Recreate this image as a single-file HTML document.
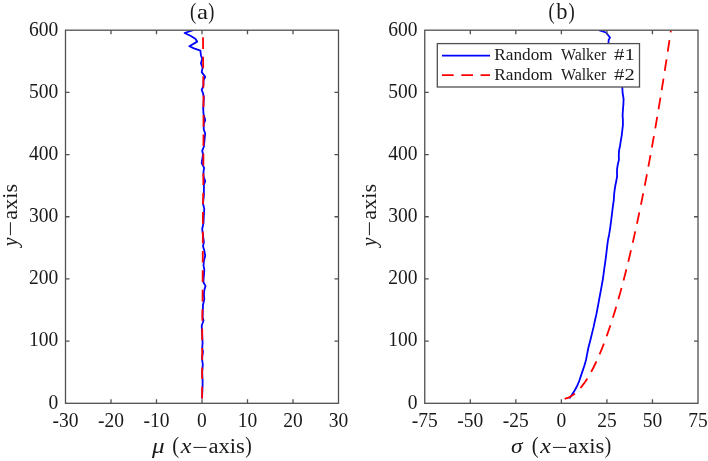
<!DOCTYPE html><html><head><meta charset="utf-8"><style>html,body{margin:0;padding:0;background:#fff;overflow:hidden}svg{display:block}text{font-family:"Liberation Serif",serif;fill:#1a1a1a}</style></head><body>
<svg style="will-change:transform" width="708" height="461" viewBox="0 0 708 461">
<rect width="708" height="461" fill="#fff"/>
<defs><clipPath id="ca"><rect x="65.50" y="30.20" width="273.00" height="373.10"/></clipPath><clipPath id="cb"><rect x="424.75" y="30.20" width="273.25" height="373.10"/></clipPath></defs>
<polyline points="194.60,29.60 184.60,33.00 190.40,35.80 195.30,38.70 197.20,41.60 189.40,46.20 194.00,48.40 200.40,50.60 200.90,55.20 202.20,58.70 200.90,63.50 202.60,67.40 201.70,72.10 205.20,76.90 203.50,80.40 203.50,84.70 202.60,88.00 201.70,89.70 203.00,93.20 203.90,97.50 203.20,108.00 203.50,114.00 205.20,120.10 203.90,123.60 203.70,128.00 203.90,130.00 205.20,133.50 204.50,140.00 203.90,146.50 202.20,150.80 203.00,154.30 202.50,158.00 201.70,163.00 204.10,167.80 203.50,171.90 203.50,176.30 205.20,181.10 203.90,185.00 203.90,190.20 203.90,195.40 203.00,203.50 204.30,209.10 203.90,214.30 203.50,223.00 202.20,229.00 202.60,232.50 203.90,242.00 203.00,246.20 204.30,250.50 205.20,255.80 203.90,261.00 203.50,265.30 204.30,269.60 203.90,275.70 203.50,280.00 203.50,282.50 205.50,285.90 204.30,290.30 203.90,294.60 204.30,299.00 203.00,305.00 202.80,310.30 202.60,317.20 203.50,320.50 201.70,325.70 202.20,334.40 202.60,343.00 202.20,348.20 203.00,351.70 202.20,357.00 202.20,360.20 202.80,364.50 202.20,372.40 202.60,380.20 202.60,385.40 202.20,395.00 202.00,398.50" fill="none" stroke="#0000ff" stroke-width="1.80" stroke-linejoin="round" clip-path="url(#ca)"/>
<polyline points="202.10,398.50 202.20,330.00 202.60,295.00 202.80,250.00 202.90,215.00 203.30,185.00 203.50,130.00 203.50,100.00 203.20,70.00 203.00,30.20" fill="none" stroke="#ff0000" stroke-width="1.80" stroke-linejoin="round" stroke-dasharray="11.65 7.77" clip-path="url(#ca)"/>
<polyline points="569.30,398.50 571.90,394.70 574.50,390.80 577.10,386.00 579.30,380.80 581.00,375.60 582.80,370.40 584.50,365.20 586.00,360.00 587.00,354.70 588.40,347.80 590.20,340.80 591.90,333.90 593.60,326.90 595.05,320.00 596.30,314.70 597.60,307.80 598.90,300.80 600.20,293.90 601.50,286.90 602.70,280.00 603.50,274.70 604.40,267.80 605.40,260.80 606.30,253.90 607.10,246.90 608.00,240.00 609.10,234.70 610.20,227.80 611.10,220.80 612.00,213.90 612.80,206.90 613.80,200.00 614.10,194.70 614.70,189.50 615.40,185.20 616.30,180.80 617.10,176.50 617.00,173.00 617.10,168.70 618.00,163.50 618.90,160.00 618.80,154.70 619.10,150.40 620.00,146.00 620.80,140.80 621.70,135.60 622.30,130.40 622.90,125.20 622.90,120.00 622.60,115.40 622.90,110.20 623.40,104.10 623.60,98.90 622.70,93.70 622.30,87.60 620.00,75.00 614.00,55.00 609.50,45.00 608.70,43.40 608.50,42.50 608.70,39.90 610.00,37.50 607.60,34.50 605.90,32.50 602.00,31.20 598.90,30.10" fill="none" stroke="#0000ff" stroke-width="1.80" stroke-linejoin="round" clip-path="url(#cb)"/>
<polyline points="564.65,398.82 568.49,397.58 570.92,396.34 572.85,395.09 574.49,393.85 575.95,392.60 577.28,391.36 578.51,390.12 579.65,388.87 580.73,387.63 581.75,386.39 582.72,385.14 583.64,383.90 584.54,382.66 585.39,381.41 586.22,380.17 587.02,378.92 587.80,377.68 588.56,376.44 589.29,375.19 590.01,373.95 590.71,372.71 591.39,371.46 592.06,370.22 592.71,368.97 593.35,367.73 593.97,366.49 594.59,365.24 595.19,364.00 595.79,362.76 596.37,361.51 596.94,360.27 597.51,359.03 598.06,357.78 598.61,356.54 599.15,355.29 599.68,354.05 600.21,352.81 600.73,351.56 601.24,350.32 601.74,349.08 602.24,347.83 602.73,346.59 603.22,345.35 603.70,344.10 604.18,342.86 604.65,341.61 605.11,340.37 606.25,337.26 607.37,334.15 608.46,331.04 609.52,327.93 610.56,324.82 611.58,321.72 612.57,318.61 613.55,315.50 614.51,312.39 615.46,309.28 616.39,306.17 617.30,303.06 618.20,299.95 619.08,296.84 619.95,293.73 620.81,290.62 621.65,287.51 622.49,284.41 623.31,281.30 624.12,278.19 624.92,275.08 625.71,271.97 626.50,268.86 627.27,265.75 628.03,262.64 628.79,259.53 629.53,256.42 630.27,253.31 631.00,250.20 631.73,247.10 632.44,243.99 633.15,240.88 633.85,237.77 634.55,234.66 635.24,231.55 635.92,228.44 636.59,225.33 637.26,222.22 637.93,219.11 638.59,216.00 639.24,212.89 639.89,209.79 640.53,206.68 641.16,203.57 641.80,200.46 642.42,197.35 643.04,194.24 643.66,191.13 644.27,188.02 644.88,184.91 645.49,181.80 646.09,178.69 646.68,175.58 647.27,172.48 647.86,169.37 648.44,166.26 649.02,163.15 649.60,160.04 650.17,156.93 650.74,153.82 651.30,150.71 651.86,147.60 652.42,144.49 652.98,141.38 653.53,138.27 654.07,135.17 654.62,132.06 655.16,128.95 655.70,125.84 656.23,122.73 656.76,119.62 657.29,116.51 657.82,113.40 658.34,110.29 658.86,107.18 659.38,104.07 659.90,100.96 660.41,97.86 660.92,94.75 661.42,91.64 661.93,88.53 662.43,85.42 662.93,82.31 663.43,79.20 663.92,76.09 664.42,72.98 664.91,69.87 665.39,66.76 665.88,63.65 666.36,60.55 666.84,57.44 667.32,54.33 667.80,51.22 668.27,48.11 668.74,45.00 669.21,41.89 669.68,38.78 670.15,35.67 670.61,32.56 670.97,30.20" fill="none" stroke="#ff0000" stroke-width="1.80" stroke-linejoin="round" stroke-dasharray="11.66 7.77" clip-path="url(#cb)"/>
<path d="M111.00 403.30V399.30M111.00 30.20V34.20M156.50 403.30V399.30M156.50 30.20V34.20M202.00 403.30V399.30M202.00 30.20V34.20M247.50 403.30V399.30M247.50 30.20V34.20M293.00 403.30V399.30M293.00 30.20V34.20M65.50 341.12H69.50M338.50 341.12H334.50M65.50 278.93H69.50M338.50 278.93H334.50M65.50 216.75H69.50M338.50 216.75H334.50M65.50 154.57H69.50M338.50 154.57H334.50M65.50 92.38H69.50M338.50 92.38H334.50" stroke="#505050" stroke-width="1.30" fill="none"/>
<rect x="65.50" y="30.20" width="273.00" height="373.10" fill="none" stroke="#505050" stroke-width="1.30"/>
<text x="48.59" y="408.60" font-size="20.20" textLength="9.75" lengthAdjust="spacingAndGlyphs">0</text>
<text x="29.09" y="346.42" font-size="20.20" textLength="29.25" lengthAdjust="spacingAndGlyphs">100</text>
<text x="29.09" y="284.23" font-size="20.20" textLength="29.25" lengthAdjust="spacingAndGlyphs">200</text>
<text x="29.09" y="222.05" font-size="20.20" textLength="29.25" lengthAdjust="spacingAndGlyphs">300</text>
<text x="29.09" y="159.87" font-size="20.20" textLength="29.25" lengthAdjust="spacingAndGlyphs">400</text>
<text x="29.09" y="97.68" font-size="20.20" textLength="29.25" lengthAdjust="spacingAndGlyphs">500</text>
<text x="29.09" y="35.50" font-size="20.20" textLength="29.25" lengthAdjust="spacingAndGlyphs">600</text>
<text x="52.50" y="427.00" font-size="20.20" textLength="25.99" lengthAdjust="spacingAndGlyphs">-30</text>
<text x="98.00" y="427.00" font-size="20.20" textLength="25.99" lengthAdjust="spacingAndGlyphs">-20</text>
<text x="143.50" y="427.00" font-size="20.20" textLength="25.99" lengthAdjust="spacingAndGlyphs">-10</text>
<text x="197.12" y="427.00" font-size="20.20" textLength="9.75" lengthAdjust="spacingAndGlyphs">0</text>
<text x="237.75" y="427.00" font-size="20.20" textLength="19.50" lengthAdjust="spacingAndGlyphs">10</text>
<text x="283.25" y="427.00" font-size="20.20" textLength="19.50" lengthAdjust="spacingAndGlyphs">20</text>
<text x="328.75" y="427.00" font-size="20.20" textLength="19.50" lengthAdjust="spacingAndGlyphs">30</text>
<path d="M470.29 403.30V399.30M470.29 30.20V34.20M515.83 403.30V399.30M515.83 30.20V34.20M561.38 403.30V399.30M561.38 30.20V34.20M606.92 403.30V399.30M606.92 30.20V34.20M652.46 403.30V399.30M652.46 30.20V34.20M424.75 341.12H428.75M698.00 341.12H694.00M424.75 278.93H428.75M698.00 278.93H694.00M424.75 216.75H428.75M698.00 216.75H694.00M424.75 154.57H428.75M698.00 154.57H694.00M424.75 92.38H428.75M698.00 92.38H694.00" stroke="#505050" stroke-width="1.30" fill="none"/>
<rect x="424.75" y="30.20" width="273.25" height="373.10" fill="none" stroke="#505050" stroke-width="1.30"/>
<text x="407.84" y="408.60" font-size="20.20" textLength="9.75" lengthAdjust="spacingAndGlyphs">0</text>
<text x="388.34" y="346.42" font-size="20.20" textLength="29.25" lengthAdjust="spacingAndGlyphs">100</text>
<text x="388.34" y="284.23" font-size="20.20" textLength="29.25" lengthAdjust="spacingAndGlyphs">200</text>
<text x="388.34" y="222.05" font-size="20.20" textLength="29.25" lengthAdjust="spacingAndGlyphs">300</text>
<text x="388.34" y="159.87" font-size="20.20" textLength="29.25" lengthAdjust="spacingAndGlyphs">400</text>
<text x="388.34" y="97.68" font-size="20.20" textLength="29.25" lengthAdjust="spacingAndGlyphs">500</text>
<text x="388.34" y="35.50" font-size="20.20" textLength="29.25" lengthAdjust="spacingAndGlyphs">600</text>
<text x="411.75" y="427.00" font-size="20.20" textLength="25.99" lengthAdjust="spacingAndGlyphs">-75</text>
<text x="457.29" y="427.00" font-size="20.20" textLength="25.99" lengthAdjust="spacingAndGlyphs">-50</text>
<text x="502.84" y="427.00" font-size="20.20" textLength="25.99" lengthAdjust="spacingAndGlyphs">-25</text>
<text x="556.50" y="427.00" font-size="20.20" textLength="9.75" lengthAdjust="spacingAndGlyphs">0</text>
<text x="597.17" y="427.00" font-size="20.20" textLength="19.50" lengthAdjust="spacingAndGlyphs">25</text>
<text x="642.71" y="427.00" font-size="20.20" textLength="19.50" lengthAdjust="spacingAndGlyphs">50</text>
<text x="688.25" y="427.00" font-size="20.20" textLength="19.50" lengthAdjust="spacingAndGlyphs">75</text>
<rect x="437.30" y="43.60" width="202.20" height="43.40" fill="#fff" stroke="#505050" stroke-width="1.30"/>
<line x1="442" y1="55.6" x2="490" y2="55.6" stroke="#0000ff" stroke-width="1.80"/>
<line x1="442" y1="75.2" x2="490" y2="75.2" stroke="#ff0000" stroke-width="1.80" stroke-dasharray="11.7 7.6"/>
<text x="494.30" y="59.80" font-size="16.00" textLength="58.37" lengthAdjust="spacingAndGlyphs">Random</text>
<text x="560.98" y="59.80" font-size="16.00" textLength="45.35" lengthAdjust="spacingAndGlyphs">Walker</text>
<text x="614.13" y="59.80" font-size="16.00" textLength="20.72" lengthAdjust="spacingAndGlyphs">#1</text>
<text x="494.30" y="79.60" font-size="16.00" textLength="58.37" lengthAdjust="spacingAndGlyphs">Random</text>
<text x="560.98" y="79.60" font-size="16.00" textLength="45.35" lengthAdjust="spacingAndGlyphs">Walker</text>
<text x="614.13" y="79.60" font-size="16.00" textLength="20.61" lengthAdjust="spacingAndGlyphs">#2</text>
<text x="189.98" y="18.50" font-size="22.90" textLength="6.22" lengthAdjust="spacingAndGlyphs">(</text>
<text x="197.03" y="18.70" font-size="20.70" textLength="11.01" lengthAdjust="spacingAndGlyphs">a</text>
<text x="208.31" y="18.50" font-size="22.90" textLength="6.09" lengthAdjust="spacingAndGlyphs">)</text>
<text x="548.50" y="18.50" font-size="22.90" textLength="6.09" lengthAdjust="spacingAndGlyphs">(</text>
<text x="556.30" y="18.70" font-size="22.20" textLength="11.26" lengthAdjust="spacingAndGlyphs">b</text>
<text x="568.40" y="18.50" font-size="22.90" textLength="6.22" lengthAdjust="spacingAndGlyphs">)</text>
<text x="152.02" y="453.40" font-size="21.00" font-style="italic" textLength="12.61" lengthAdjust="spacingAndGlyphs">μ</text>
<text x="172.19" y="453.40" font-size="23.00" textLength="6.87" lengthAdjust="spacingAndGlyphs">(</text>
<text x="180.69" y="453.40" font-size="20.50" font-style="italic" textLength="10.68" lengthAdjust="spacingAndGlyphs">x</text>
<text x="192.09" y="453.70" font-size="20.50" textLength="16.00" lengthAdjust="spacingAndGlyphs">−</text>
<text x="208.41" y="453.40" font-size="20.50" textLength="36.41" lengthAdjust="spacingAndGlyphs">axis</text>
<text x="245.37" y="453.40" font-size="23.00" textLength="6.48" lengthAdjust="spacingAndGlyphs">)</text>
<text x="510.90" y="453.40" font-size="21.00" font-style="italic" textLength="11.55" lengthAdjust="spacingAndGlyphs">σ</text>
<text x="531.69" y="453.40" font-size="23.00" textLength="6.87" lengthAdjust="spacingAndGlyphs">(</text>
<text x="540.19" y="453.40" font-size="20.50" font-style="italic" textLength="10.68" lengthAdjust="spacingAndGlyphs">x</text>
<text x="551.59" y="453.70" font-size="20.50" textLength="16.00" lengthAdjust="spacingAndGlyphs">−</text>
<text x="567.91" y="453.40" font-size="20.50" textLength="36.41" lengthAdjust="spacingAndGlyphs">axis</text>
<text x="604.87" y="453.40" font-size="23.00" textLength="6.48" lengthAdjust="spacingAndGlyphs">)</text>
<g transform="translate(16.60 0) rotate(-90)">
<text x="-246.35" y="0.00" font-size="20.50" font-style="italic" textLength="8.75" lengthAdjust="spacingAndGlyphs">y</text>
<text x="-236.79" y="0.30" font-size="20.50" textLength="15.76" lengthAdjust="spacingAndGlyphs">−</text>
<text x="-219.68" y="0.00" font-size="20.50" textLength="35.68" lengthAdjust="spacingAndGlyphs">axis</text>
</g>
<g transform="translate(376.10 0) rotate(-90)">
<text x="-246.35" y="0.00" font-size="20.50" font-style="italic" textLength="8.75" lengthAdjust="spacingAndGlyphs">y</text>
<text x="-236.79" y="0.30" font-size="20.50" textLength="15.76" lengthAdjust="spacingAndGlyphs">−</text>
<text x="-219.68" y="0.00" font-size="20.50" textLength="35.68" lengthAdjust="spacingAndGlyphs">axis</text>
</g>
</svg></body></html>
